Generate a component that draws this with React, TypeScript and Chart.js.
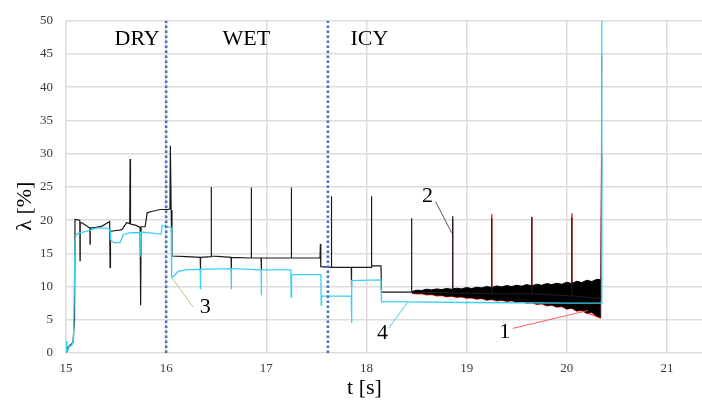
import { useEffect, useRef } from 'react';
import { Chart, registerables } from 'chart.js';

Chart.register(...registerables);

// ---------- DATA ----------
// Series 2 (black) up to 18.453 s (series 1 lies underneath it here)
const t2Head = [
  15.000, 15.005, 15.015, 15.030, 15.070, 15.085, 15.090, 15.130, 15.138, 15.140, 15.142, 15.160,
  15.200, 15.238, 15.240, 15.242, 15.300, 15.360, 15.436, 15.440, 15.444, 15.480, 15.540, 15.560,
  15.605, 15.636, 15.640, 15.644, 15.700, 15.740, 15.745, 15.750, 15.790, 15.810, 15.855, 15.940,
  16.020, 16.038, 16.042, 16.050, 16.058, 16.200, 16.340, 16.342, 16.345, 16.448, 16.450, 16.452,
  16.550, 16.648, 16.650, 16.652, 16.848, 16.850, 16.852, 16.948, 16.950, 16.952, 17.248, 17.250,
  17.252, 17.536, 17.540, 17.544, 17.648, 17.650, 17.652, 17.848, 17.850, 17.852, 18.048, 18.050,
  18.052, 18.145, 18.150, 18.448, 18.450, 18.453,
];
const lambda2Head = [
  1.7, 0.3, 0.8, 1.0, 1.6, 5.0, 20.1, 20.0, 19.9, 13.9, 19.6, 19.6,
  19.2, 18.8, 16.4, 18.8, 18.9, 19.1, 19.8, 12.9, 18.3, 18.4, 18.5, 18.6,
  19.6, 19.5, 29.2, 19.4, 19.2, 18.9, 7.2, 19.0, 19.0, 21.1, 21.3, 21.6,
  21.6, 21.7, 31.2, 21.5, 14.6, 14.5, 14.4, 12.1, 14.4, 14.5, 25.0, 14.6,
  14.5, 14.4, 12.3, 14.4, 14.3, 24.9, 14.3, 14.3, 12.3, 14.3, 14.3, 24.9,
  14.3, 14.3, 16.4, 13.0, 12.9, 23.6, 12.9, 12.9, 9.9, 12.9, 12.9, 23.6,
  13.1, 13.1, 9.15, 9.2, 20.3, 9.15,
];
// Series 2 (black) tail
const t2Tail = [18.858, 18.860, 18.862, 19.248, 19.250, 19.252, 19.648, 19.650, 19.652, 20.048, 20.050, 20.052, 20.340, 20.349];
const lambda2Tail = [9.05, 20.6, 9.05, 8.95, 20.3, 8.95, 8.9, 20.5, 8.9, 8.6, 20.4, 8.6, 8.2, 30.0];
// Series 1 (red), visible part in the icy phase
const t1 = [18.453, 18.858, 18.860, 18.862, 19.248, 19.250, 19.252, 19.648, 19.650, 19.652, 20.048, 20.050, 20.052, 20.300, 20.340, 20.349];
const lambda1 = [9.0, 8.6, 20.2, 8.6, 8.1, 20.9, 8.1, 7.7, 20.4, 7.7, 6.8, 21.0, 6.8, 5.5, 5.3, 45.0];
// Oscillation envelope of series 1/2 in the icy phase
const bandT = [
  18.453, 18.50, 18.55, 18.60, 18.65, 18.70, 18.75, 18.80, 18.85, 18.90, 18.95, 19.00, 19.05,
  19.10, 19.15, 19.20, 19.25, 19.30, 19.35, 19.40, 19.45, 19.50, 19.55, 19.60, 19.65, 19.70,
  19.75, 19.80, 19.85, 19.90, 19.95, 20.00, 20.05, 20.10, 20.15, 20.20, 20.25, 20.30, 20.34,
];
const bandUpper = [
  9.25, 9.45, 9.4, 9.6, 9.5, 9.65, 9.55, 9.7, 9.6, 9.75, 9.65, 9.85, 9.7,
  9.9, 9.8, 10.0, 9.85, 10.1, 9.95, 10.15, 10.0, 10.2, 10.05, 10.3, 10.1, 10.35,
  10.2, 10.45, 10.3, 10.5, 10.35, 10.65, 10.45, 10.8, 10.6, 10.95, 10.75, 11.1, 11.0,
];
const bandLower = [
  9.0, 8.9, 8.95, 8.75, 8.8, 8.6, 8.65, 8.45, 8.55, 8.35, 8.45, 8.25, 8.3,
  8.1, 8.2, 7.95, 8.05, 7.85, 7.95, 7.75, 7.85, 7.6, 7.7, 7.5, 7.55, 7.3,
  7.4, 7.1, 7.2, 6.9, 7.0, 6.6, 6.75, 6.3, 6.45, 5.95, 6.1, 5.5, 5.25,
];
// Series 4 (cyan)
const t4 = [
  15.000, 15.008, 15.020, 15.030, 15.060, 15.075, 15.090, 15.100, 15.120, 15.200, 15.300, 15.400,
  15.440, 15.445, 15.480, 15.540, 15.570, 15.640, 15.745, 15.747, 15.750, 15.950, 15.960, 16.020,
  16.050, 16.055, 16.080, 16.120, 16.200, 16.340, 16.342, 16.345, 16.648, 16.650, 16.652, 16.948,
  16.950, 16.952, 17.245, 17.248, 17.252, 17.545, 17.548, 17.552, 17.848, 17.850, 17.855, 18.145,
  18.150, 18.400, 19.000, 20.000, 20.345, 20.350,
];
const lambda4 = [
  1.8, 0.2, 0.3, 0.9, 1.2, 2.0, 16.8, 17.8, 18.0, 18.3, 18.8, 18.8,
  18.6, 17.0, 16.6, 16.6, 17.8, 18.1, 18.1, 14.5, 18.2, 17.9, 19.2, 19.0,
  18.9, 11.4, 11.6, 12.3, 12.5, 12.6, 9.6, 12.6, 12.7, 9.6, 12.7, 12.5,
  8.7, 12.5, 12.5, 8.4, 11.8, 11.8, 7.2, 8.55, 8.55, 4.5, 10.9, 11.0,
  7.7, 7.7, 7.6, 7.5, 7.5, 52.0,
];
// Phase boundaries and labels
const phaseBoundaries = [16.0, 17.615];
const phaseNames = ['DRY', 'WET', 'ICY'];
const phaseLabelT = [15.71, 16.80, 18.03];
const phaseLabelLambda = 47.2;
// Curve number labels and their leader lines
const curveNames = ['1', '2', '3', '4'];
const curveLabelT = [19.38, 18.61, 16.39, 18.16];
const curveLabelLambda = [3.1, 23.6, 6.9, 3.0];
const leaderT0 = [19.46, 18.69, 16.055, 18.22];
const leaderL0 = [3.7, 22.8, 11.4, 3.7];
const leaderT1 = [20.21, 18.85, 16.27, 18.41];
const leaderL1 = [6.4, 18.1, 6.9, 7.6];
// Axes
const xTicks = [15, 16, 17, 18, 19, 20, 21];
const xMin = 15;
const xMax = 21.35;
const yMin = 0;
const yMax = 50;
const yStep = 5;
const xTitle = 't [s]';
const yTitle = 'λ [%]';

const pts = (t: number[], v: number[]) => t.map((x, i) => ({ x, y: v[i] }));

export default function App() {
  const ref = useRef<HTMLCanvasElement>(null);
  useEffect(() => {
    document.body.style.margin = '0';
    const serif = "'Liberation Serif', 'Times New Roman', serif";
    const leaderColors = ['#ff5a5a', '#555555', '#a9d18e', '#3ad0f2'];

    const textPlugin = {
      id: 'texts',
      afterDatasetsDraw(chart: any) {
        const { ctx, scales } = chart;
        const x = scales.x;
        const y = scales.y;
        ctx.save();
        ctx.fillStyle = '#000';
        ctx.textAlign = 'center';
        ctx.textBaseline = 'middle';
        ctx.font = `22px ${serif}`;
        phaseNames.forEach((n, i) => {
          ctx.fillText(n, x.getPixelForValue(phaseLabelT[i]), y.getPixelForValue(phaseLabelLambda));
        });
        curveNames.forEach((n, i) => {
          ctx.fillText(n, x.getPixelForValue(curveLabelT[i]), y.getPixelForValue(curveLabelLambda[i]));
        });
        // axis titles
        ctx.fillText(xTitle, x.getPixelForValue(17.98), 388);
        ctx.translate(25, y.getPixelForValue(22.1));
        ctx.rotate(-Math.PI / 2);
        ctx.fillText(yTitle, 0, 0);
        ctx.restore();
      },
    };

    const base = { pointRadius: 0, tension: 0, fill: false, borderJoinStyle: 'miter' as const };

    const datasets: any[] = [];
    // index 0 is drawn last (on top)
    phaseBoundaries.forEach((b) => {
      datasets.push({
        ...base,
        data: [{ x: b, y: yMin }, { x: b, y: yMax }],
        borderColor: '#4472c4',
        borderWidth: 2.6,
        borderDash: [2.6, 2.4],
      });
    });
    curveNames.forEach((_, i) => {
      datasets.push({
        ...base,
        data: [{ x: leaderT0[i], y: leaderL0[i] }, { x: leaderT1[i], y: leaderL1[i] }],
        borderColor: leaderColors[i],
        borderWidth: 1,
      });
    });
    datasets.push({ ...base, label: '4', data: pts(t4, lambda4), borderColor: '#3ad0f2', borderWidth: 1.3 });
    datasets.push({ ...base, label: '2', data: pts([...t2Head, ...t2Tail], [...lambda2Head, ...lambda2Tail]), borderColor: '#1a1a1a', borderWidth: 1.2 });
    const upperIndex = datasets.length;
    datasets.push({
      ...base,
      label: 'band',
      data: pts(bandT, bandUpper),
      borderColor: '#000',
      borderWidth: 1,
      backgroundColor: '#000',
      fill: { target: upperIndex + 1 },
    });
    datasets.push({ ...base, label: 'band-low', data: pts(bandT, bandLower), borderColor: '#ff2020', borderWidth: 1.1 });
    datasets.push({ ...base, label: '1', data: pts(t1, lambda1), borderColor: '#ff2020', borderWidth: 1 });

    const chart = new Chart(ref.current!, {
      type: 'line',
      data: { datasets },
      plugins: [textPlugin],
      options: {
        animation: false,
        responsive: false,
        maintainAspectRatio: false,
        layout: { padding: { top: 18, right: 0, left: 0, bottom: 0 } },
        plugins: { legend: { display: false }, tooltip: { enabled: false } },
        scales: {
          x: {
            type: 'linear',
            min: xMin,
            max: xMax,
            afterFit: (s: any) => { s.height = 48; },
            afterBuildTicks: (s: any) => { s.ticks = xTicks.map((v) => ({ value: v })); },
            ticks: { stepSize: 1, includeBounds: false, padding: 8, color: '#3a3a3a', font: { family: serif, size: 13 } },
            grid: { color: '#dcdcdc', lineWidth: 1.5, drawTicks: false },
            border: { display: false },
          },
          y: {
            min: yMin,
            max: yMax,
            afterFit: (s: any) => { s.width = 66; },
            ticks: { stepSize: yStep, padding: 13, color: '#3a3a3a', font: { family: serif, size: 13 } },
            grid: { color: '#dcdcdc', lineWidth: 1.5, drawTicks: false },
            border: { display: false },
          },
        },
      },
    });
    return () => chart.destroy();
  }, []);

  return <canvas ref={ref} width={702} height={401} style={{ display: 'block' }} />;
}
